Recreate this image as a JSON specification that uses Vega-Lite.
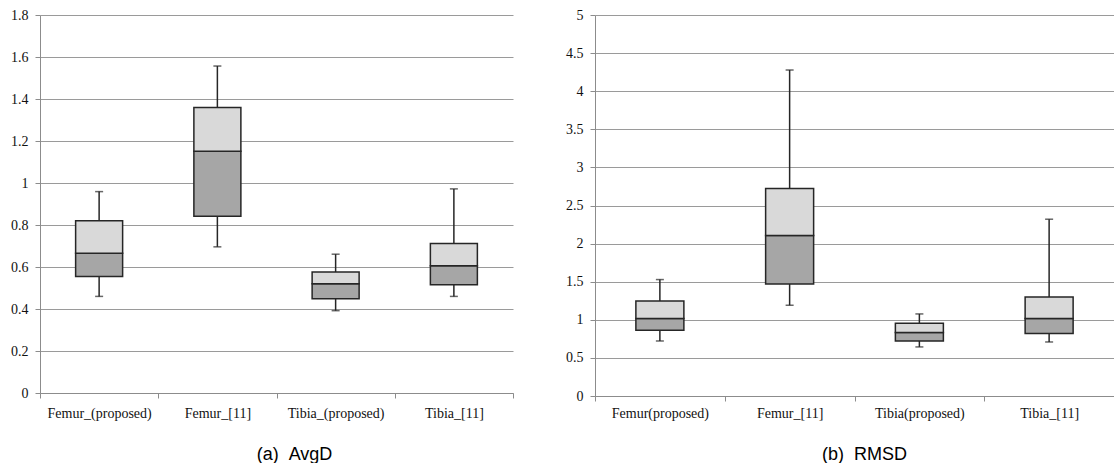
{
  "$schema": "https://vega.github.io/schema/vega-lite/v6.json",
  "padding": {"left": 5, "top": 8, "right": 0, "bottom": 0},
  "spacing": 49,
  "background": "white",
  "config": {
    "view": {"stroke": null},
    "axis": {
      "labelFont": "Liberation Serif",
      "labelFontSize": 14,
      "labelColor": "#111111",
      "domainColor": "#8c8c8c",
      "tickColor": "#8c8c8c",
      "gridColor": "#9a9a9a",
      "tickSize": 5,
      "titleFont": "Liberation Sans",
      "titleFontSize": 18,
      "titleFontWeight": "normal",
      "titleColor": "#000000"
    }
  },
  "hconcat": [
    {
      "width": 473,
      "height": 378,
      "data": {"values": [
        {"cat": "Femur_(proposed)", "min": 0.46, "q1": 0.555, "med": 0.666, "q3": 0.82, "max": 0.959},
        {"cat": "Femur_[11]", "min": 0.696, "q1": 0.842, "med": 1.151, "q3": 1.359, "max": 1.557},
        {"cat": "Tibia_(proposed)", "min": 0.392, "q1": 0.449, "med": 0.52, "q3": 0.576, "max": 0.661},
        {"cat": "Tibia_[11]", "min": 0.46, "q1": 0.515, "med": 0.606, "q3": 0.712, "max": 0.972}
      ]},
      "encoding": {
        "x": {
          "field": "cat", "type": "nominal", "sort": null,
          "scale": {"paddingInner": 0, "paddingOuter": 0},
          "axis": {"title": "(a)\u00a0\u00a0AvgD", "labelAngle": 0, "labelPadding": 8, "tickBand": "extent", "grid": false, "titlePadding": 25, "titleX": 254, "titleAnchor": null, "titleAlign": "center", "labelLimit": 300}
        }
      },
      "layer": [
        {
          "mark": {"type": "rule", "color": "#262626", "strokeWidth": 1.5},
          "encoding": {
            "y": {"field": "min", "type": "quantitative", "scale": {"domain": [0, 1.8], "nice": false},
              "axis": {"title": null, "values": [0, 0.2, 0.4, 0.6, 0.8, 1, 1.2, 1.4, 1.6, 1.8], "tickCount": 12, "format": "~g", "grid": true, "labelPadding": 7, "minExtent": 35, "maxExtent": 35}},
            "y2": {"field": "max"}
          }
        },
        {
          "mark": {"type": "bar", "fill": "#a6a6a6", "stroke": "#262626", "strokeWidth": 1.5, "size": 47},
          "encoding": {"y": {"field": "q1", "type": "quantitative"}, "y2": {"field": "med"}}
        },
        {
          "mark": {"type": "bar", "fill": "#d9d9d9", "stroke": "#262626", "strokeWidth": 1.5, "size": 47},
          "encoding": {"y": {"field": "med", "type": "quantitative"}, "y2": {"field": "q3"}}
        },
        {
          "mark": {"type": "tick", "color": "#262626", "thickness": 1.5, "size": 8},
          "encoding": {"y": {"field": "min", "type": "quantitative"}}
        },
        {
          "mark": {"type": "tick", "color": "#262626", "thickness": 1.5, "size": 8},
          "encoding": {"y": {"field": "max", "type": "quantitative"}}
        }
      ]
    },
    {
      "width": 519,
      "height": 381,
      "data": {"values": [
        {"cat": "Femur(proposed)", "min": 0.722, "q1": 0.863, "med": 1.016, "q3": 1.248, "max": 1.528},
        {"cat": "Femur_[11]", "min": 1.191, "q1": 1.471, "med": 2.106, "q3": 2.723, "max": 4.278},
        {"cat": "Tibia(proposed)", "min": 0.644, "q1": 0.722, "med": 0.832, "q3": 0.954, "max": 1.077},
        {"cat": "Tibia_[11]", "min": 0.709, "q1": 0.819, "med": 1.016, "q3": 1.3, "max": 2.32}
      ]},
      "encoding": {
        "x": {
          "field": "cat", "type": "nominal", "sort": null,
          "scale": {"paddingInner": 0, "paddingOuter": 0},
          "axis": {"title": "(b)\u00a0\u00a0RMSD", "labelAngle": 0, "labelPadding": 5, "tickBand": "extent", "grid": false, "titlePadding": 25, "titleX": 269, "titleAnchor": null, "titleAlign": "center", "labelLimit": 300}
        }
      },
      "layer": [
        {
          "mark": {"type": "rule", "color": "#262626", "strokeWidth": 1.5},
          "encoding": {
            "y": {"field": "min", "type": "quantitative", "scale": {"domain": [0, 5], "nice": false},
              "axis": {"title": null, "values": [0, 0.5, 1, 1.5, 2, 2.5, 3, 3.5, 4, 4.5, 5], "tickCount": 12, "format": "~g", "grid": true, "labelPadding": 7, "minExtent": 32, "maxExtent": 32}},
            "y2": {"field": "max"}
          }
        },
        {
          "mark": {"type": "bar", "fill": "#a6a6a6", "stroke": "#262626", "strokeWidth": 1.5, "size": 48},
          "encoding": {"y": {"field": "q1", "type": "quantitative"}, "y2": {"field": "med"}}
        },
        {
          "mark": {"type": "bar", "fill": "#d9d9d9", "stroke": "#262626", "strokeWidth": 1.5, "size": 48},
          "encoding": {"y": {"field": "med", "type": "quantitative"}, "y2": {"field": "q3"}}
        },
        {
          "mark": {"type": "tick", "color": "#262626", "thickness": 1.5, "size": 8},
          "encoding": {"y": {"field": "min", "type": "quantitative"}}
        },
        {
          "mark": {"type": "tick", "color": "#262626", "thickness": 1.5, "size": 8},
          "encoding": {"y": {"field": "max", "type": "quantitative"}}
        }
      ]
    }
  ]
}
